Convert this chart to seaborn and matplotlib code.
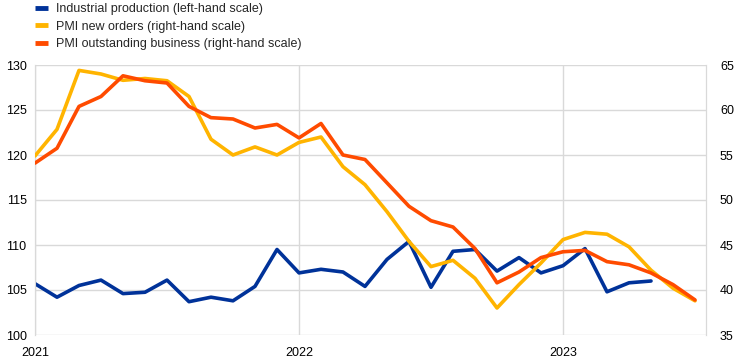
import numpy as np
import pandas as pd
import matplotlib
matplotlib.use("Agg")
import matplotlib.pyplot as plt
import seaborn as sns
from matplotlib.lines import Line2D

# Monthly data starting January 2021 (month index 0)
industrial_production = [105.7, 104.2, 105.5, 106.1, 104.6, 104.75, 106.1, 103.7, 104.2, 103.8,
                         105.4, 109.5, 106.9, 107.3, 107.0, 105.4, 108.4, 110.4, 105.3, 109.3,
                         109.5, 107.1, 108.6, 106.9, 107.7, 109.6, 104.8, 105.8, 106.0]
pmi_new_orders = [54.9, 57.85, 64.4, 64.0, 63.3, 63.5, 63.25, 61.5, 56.75, 55.0,
                  55.9, 55.0, 56.4, 57.0, 53.7, 51.7, 48.7, 45.4, 42.6, 43.3,
                  41.3, 38.0, 40.6, 43.0, 45.6, 46.4, 46.2, 44.8, 42.2, 40.2, 38.8]
pmi_outstanding = [54.1, 55.75, 60.4, 61.5, 63.8, 63.25, 63.0, 60.4, 59.15, 59.0,
                   58.0, 58.4, 56.9, 58.5, 55.0, 54.5, 51.9, 49.3, 47.7, 47.0,
                   44.6, 40.8, 42.0, 43.6, 44.25, 44.4, 43.15, 42.8, 41.9, 40.6, 38.9]
year_labels = ["2021", "2022", "2023"]
series_names = ["Industrial production (left-hand scale)",
                "PMI new orders (right-hand scale)",
                "PMI outstanding business (right-hand scale)"]

BLUE = "#003299"
YELLOW = "#ffb400"
ORANGE = "#ff4b00"

sns.set_style("white")
plt.rcParams["font.family"] = ["Liberation Sans", "DejaVu Sans"]

df_ip = pd.DataFrame({"month": np.arange(len(industrial_production)), "value": industrial_production})
df_no = pd.DataFrame({"month": np.arange(len(pmi_new_orders)), "value": pmi_new_orders})
df_ob = pd.DataFrame({"month": np.arange(len(pmi_outstanding)), "value": pmi_outstanding})

fig = plt.figure(figsize=(7.44, 3.61), dpi=100)
ax = fig.add_axes([35/744, 26/361, (706-35)/744, (335-65)/361])
ax2 = ax.twinx()

lw = 2.6
sns.lineplot(data=df_ip, x="month", y="value", ax=ax, color=BLUE, linewidth=lw, zorder=3)
sns.lineplot(data=df_no, x="month", y="value", ax=ax2, color=YELLOW, linewidth=lw, zorder=3)
sns.lineplot(data=df_ob, x="month", y="value", ax=ax2, color=ORANGE, linewidth=lw, zorder=4)

ax.set_xlim(0, 30.5)
ax.set_ylim(100, 130)
ax2.set_ylim(35, 65)
ax.set_yticks(np.arange(100, 131, 5))
ax2.set_yticks(np.arange(35, 66, 5))
ax.set_xticks([0, 12, 24])
ax.set_xticklabels(year_labels)

ax.set_xlabel("")
ax.set_ylabel("")
ax2.set_xlabel("")
ax2.set_ylabel("")

grid_color = "#d9d9d9"
ax.grid(True, axis="y", color=grid_color, linewidth=1)
ax.grid(True, axis="x", color=grid_color, linewidth=1)
ax2.grid(False)
for a in (ax, ax2):
    for side in ("top", "bottom"):
        a.spines[side].set_visible(False)
    a.spines["left"].set_color(grid_color)
    a.spines["right"].set_color(grid_color)
    a.tick_params(axis="both", length=0, labelsize=9, colors="black")
ax.tick_params(axis="y", pad=6)
ax2.tick_params(axis="y", pad=10)
ax.tick_params(axis="x", pad=9)
ax.set_axisbelow(True)

handles = [Line2D([0], [0], color=c, linewidth=3.5, solid_capstyle="butt") for c in (BLUE, YELLOW, ORANGE)]
fig.legend(handles, series_names, loc="upper left", bbox_to_anchor=(35/744, 1.0 - 3/361),
           frameon=False, fontsize=9, handlelength=1.0, handletextpad=0.65,
           labelspacing=0.45, borderaxespad=0.0, borderpad=0.0)

fig.savefig("out.png", dpi=100)
